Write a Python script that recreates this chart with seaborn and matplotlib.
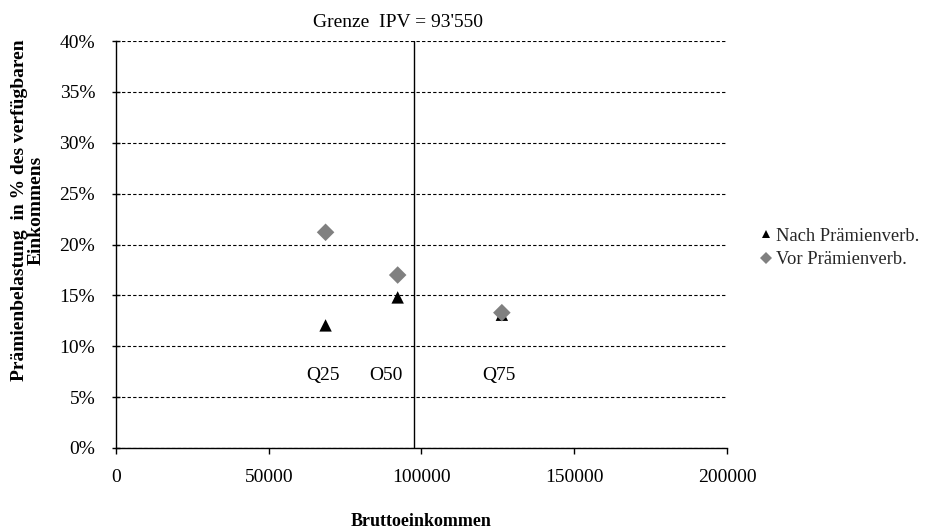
import matplotlib
matplotlib.use("Agg")
import matplotlib.pyplot as plt
import seaborn as sns
import pandas as pd
from matplotlib.ticker import PercentFormatter

# Data
quantiles = ["Q25", "O50", "Q75"]
einkommen = [68600, 92200, 126300]
nach_praemienverb = [0.1205, 0.148, 0.131]
vor_praemienverb = [0.212, 0.170, 0.133]
series_names = ["Nach Prämienverb.", "Vor Prämienverb."]
grenze_ipv = 97700
grenze_label = "Grenze  IPV = 93'550"
label_y = 0.071

df = pd.DataFrame({
    "Bruttoeinkommen": einkommen + einkommen,
    "Belastung": nach_praemienverb + vor_praemienverb,
    "Serie": [series_names[0]] * 3 + [series_names[1]] * 3,
})

sns.set_theme(style="white")
plt.rcParams["font.family"] = ["Liberation Serif", "DejaVu Serif"]

fig = plt.figure(figsize=(9.29, 5.30), dpi=100)
ax = fig.add_axes([116 / 929, 1 - 448 / 530, (727 - 116) / 929, (448 - 41) / 530])

sns.scatterplot(
    data=df, x="Bruttoeinkommen", y="Belastung",
    hue="Serie", style="Serie", hue_order=series_names, style_order=series_names,
    palette={series_names[0]: "black", series_names[1]: "#808080"},
    markers={series_names[0]: "^", series_names[1]: "D"},
    s=80, linewidth=0, ax=ax, legend=True, zorder=5,
)

ax.set_xlim(0, 200000)
ax.set_ylim(0, 0.40)
ax.set_xticks([0, 50000, 100000, 150000, 200000])
ax.set_yticks([i * 0.05 for i in range(9)])
ax.yaxis.set_major_formatter(PercentFormatter(1.0, decimals=0))
ax.grid(False)
for yv in [i * 0.05 for i in range(9)]:
    ax.axhline(yv, color="black", lw=0.8, ls=(0, (3, 2)), zorder=1)
ax.axvline(grenze_ipv, color="black", lw=1.0, zorder=2)

for sp in ["top", "right"]:
    ax.spines[sp].set_visible(False)
for sp in ["left", "bottom"]:
    ax.spines[sp].set_color("black")
    ax.spines[sp].set_linewidth(1.0)

ax.tick_params(axis="y", direction="inout", length=6, width=1, color="black",
               labelsize=14, left=True, pad=12)
ax.tick_params(axis="x", direction="out", length=4, width=1, color="black",
               labelsize=14, bottom=True, pad=11)
for lab in ax.get_xticklabels() + ax.get_yticklabels():
    lab.set_color("black")

ax.set_xlabel("Bruttoeinkommen", fontsize=13, fontweight="bold", color="black")
ax.xaxis.set_label_coords(0.5, (448 - 521) / 407)
ax.xaxis.label.set_va("center")

ax.set_ylabel("Prämienbelastung  in % des verfügbaren\nEinkommens", fontsize=14,
              fontweight="bold", color="black", linespacing=1.0)
ax.yaxis.set_label_coords((28 - 116) / 611, (448 - 210) / 407)
ax.yaxis.label.set_va("center")

label_offsets = [-800, -3800, -1000]
for q, xq, off in zip(quantiles, einkommen, label_offsets):
    ax.text(xq + off, label_y, q, ha="center", va="center", fontsize=14, color="black")

ax.text(grenze_ipv - 5400, 1.025, grenze_label, transform=ax.get_xaxis_transform(),
        ha="center", va="bottom", fontsize=14, color="black")

handles, labels = ax.get_legend_handles_labels()
ax.legend(handles, labels, loc="center left", bbox_to_anchor=(748 / 929, 1 - 248 / 530),
          bbox_transform=fig.transFigure, frameon=False, fontsize=13.3,
          handletextpad=0.0, markerscale=0.7, labelspacing=0.35, borderaxespad=0,
          handlelength=1.1)

fig.savefig("out.png", dpi=100)
